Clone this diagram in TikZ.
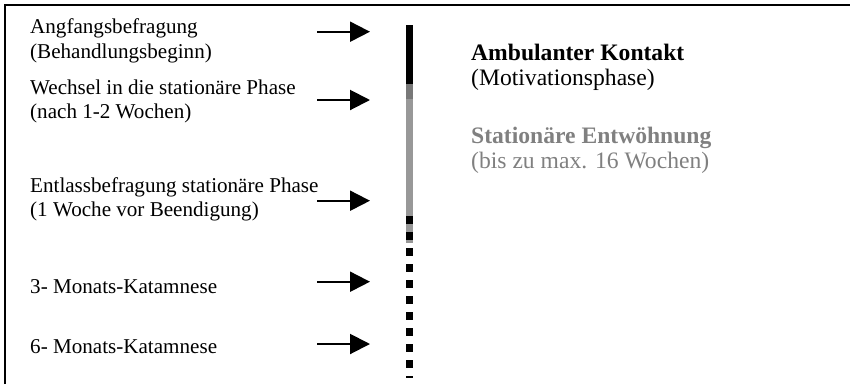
\documentclass[tikz,border=0pt]{standalone}
\usepackage{fontspec}
\setmainfont{Liberation Serif}
\usetikzlibrary{arrows.meta}
\definecolor{phasegray}{RGB}{128,128,128}
\definecolor{bargray}{RGB}{152,152,152}
\definecolor{bardark}{RGB}{120,120,120}
\begin{document}
\begin{tikzpicture}[x=1pt,y=-1pt,
  lefttext/.style={anchor=base west,inner sep=0pt,font=\fontsize{21.1}{25}\selectfont},
  righttext/.style={anchor=base west,inner sep=0pt,font=\fontsize{23.6}{26}\selectfont},
  pointer/.style={line width=2pt,-{Triangle[length=20pt,width=20pt]}},
  frameline/.style={line width=2pt}]
\useasboundingbox (0,0) rectangle (850,384);
% frame (top and left edges)
\draw[frameline] (5,384) -- (5,5) -- (850,5);
% time bar
\fill[black] (406,24.7) rectangle (413,84);
\fill[bardark] (406,84) rectangle (413,99);
\fill[bargray] (406,99) rectangle (413,243);
\draw[line width=7pt,dash pattern=on 7.5pt off 8.5pt] (409.5,216) -- (409.5,378);
% left labels
\node[lefttext] (t1a) at (30,33) {Angfangsbefragung};
\node[lefttext] (t1b) at (30,58) {(Behandlungsbeginn)};
\node[lefttext] (t2a) at (30,94) {Wechsel in die stationäre Phase};
\node[lefttext] (t2b) at (30,118.5) {(nach 1-2 Wochen)};
\node[lefttext] (t3a) at (30,192) {Entlassbefragung stationäre Phase};
\node[lefttext] (t3b) at (30,216) {(1 Woche vor Beendigung)};
\node[lefttext] (t4) at (30,293) {3- Monats-Katamnese};
\node[lefttext] (t5) at (30,353) {6- Monats-Katamnese};
% right labels
\node[righttext,font=\fontsize{23.6}{26}\selectfont\bfseries] (p1a) at (471,60) {Ambulanter Kontakt};
\node[righttext] (p1b) at (471,85) {(Motivationsphase)};
\node[righttext,font=\fontsize{23.6}{26}\selectfont\bfseries,text=phasegray] (p2a) at (471,143) {Stationäre Entwöhnung};
\node[righttext,text=phasegray] (p2b) at (471,168) {(bis zu max. 16 Wochen)};
% pointers
\coordinate (s1) at (317,31.7); \coordinate (e1) at (370,31.7);
\coordinate (s2) at (317,100);  \coordinate (e2) at (370,100);
\coordinate (s3) at (317,200.7); \coordinate (e3) at (370,200.7);
\coordinate (s4) at (317,281.7); \coordinate (e4) at (370,281.7);
\coordinate (s5) at (317,344);  \coordinate (e5) at (370,344);
\foreach \i in {1,...,5} \draw[pointer] (s\i) -- (e\i);
\end{tikzpicture}
\end{document}
